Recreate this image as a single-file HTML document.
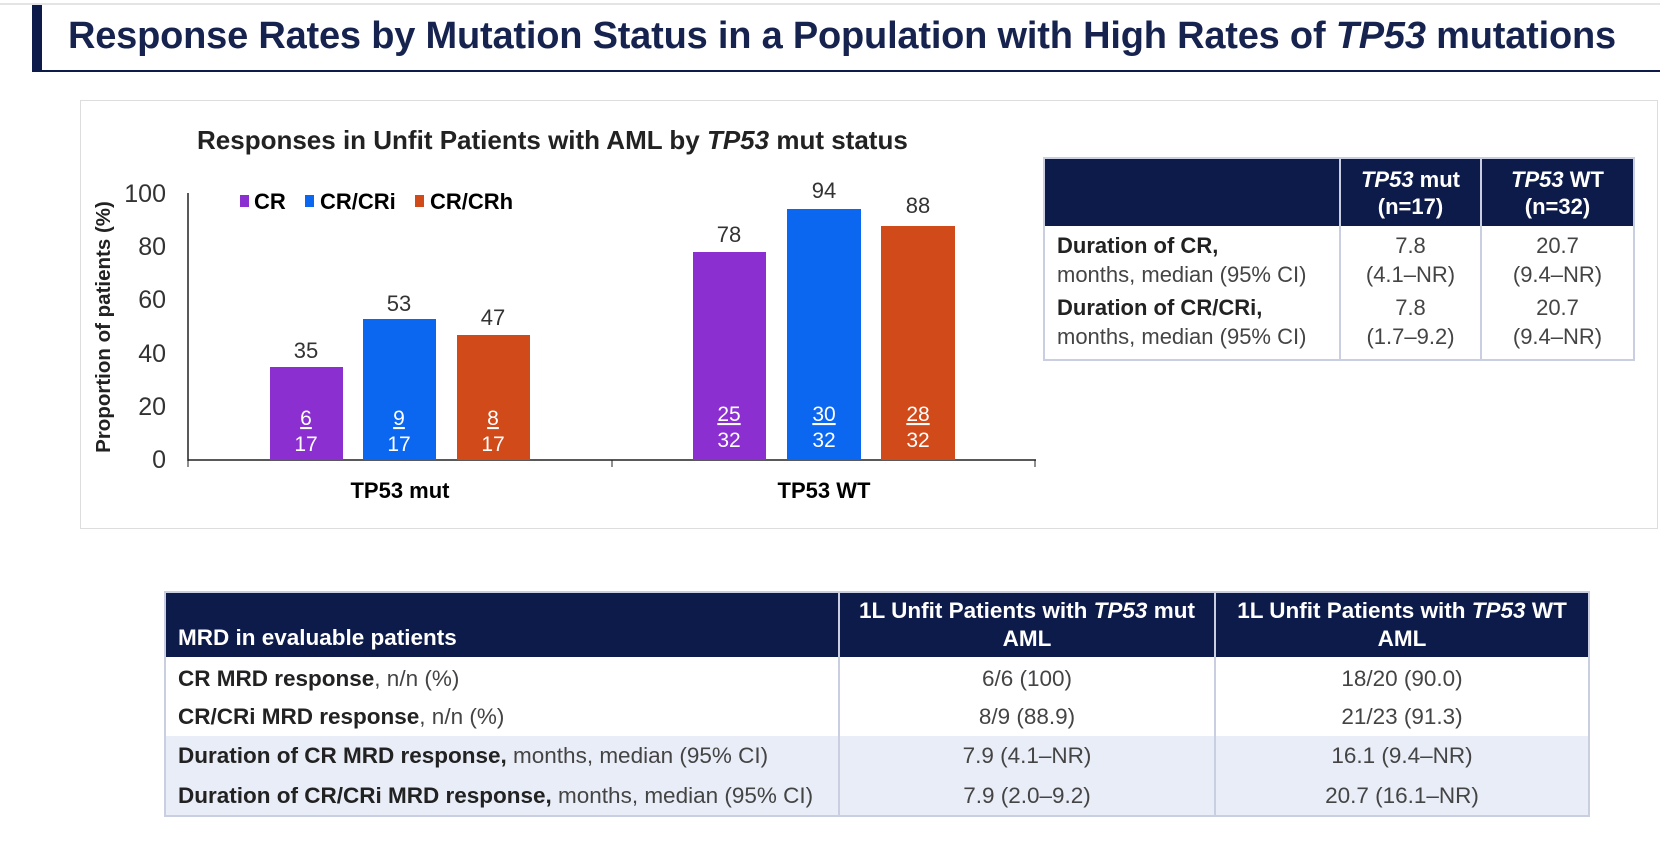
<!DOCTYPE html>
<html><head><meta charset="utf-8"><style>
body{margin:0;width:1660px;height:858px;background:#fff;position:relative;overflow:hidden;font-family:"Liberation Sans",sans-serif;color:#222}
.a{position:absolute}
table{border-collapse:collapse;position:absolute}
td,th{padding:0;white-space:nowrap}
</style></head><body>
<div class="a" style="left:0;top:3px;width:1660px;height:2px;background:#e4e4e4"></div>
<div class="a" style="left:32px;top:5px;width:10px;height:67px;background:#0d1b4a"></div>
<div class="a" style="left:42px;top:70px;width:1618px;height:2px;background:#0d1b4a"></div>
<div class="a" style="left:68px;top:15px;font-size:38px;font-weight:bold;color:#17234f;white-space:nowrap;letter-spacing:-0.2px">Response Rates by Mutation Status in a Population with High Rates of <i>TP53</i> mutations</div>

<div class="a" style="left:80px;top:100px;width:1576px;height:427px;border:1px solid #ddd"></div>
<div class="a" style="left:197px;top:125px;font-size:26px;font-weight:bold;white-space:nowrap">Responses in Unfit Patients with AML by <i>TP53</i> mut status</div>

<svg class="a" style="left:0;top:0" width="1660" height="858" font-family="Liberation Sans, sans-serif">
<line x1="188" y1="193" x2="188" y2="461" stroke="#222" stroke-width="1.5"/>
<line x1="188" y1="460" x2="1036" y2="460" stroke="#222" stroke-width="1.5"/>
<line x1="612" y1="460" x2="612" y2="467" stroke="#222"/>
<line x1="1035" y1="460" x2="1035" y2="467" stroke="#222"/>
<line x1="188" y1="460" x2="188" y2="467" stroke="#222"/>
<g font-size="25" fill="#333" text-anchor="end">
<text x="166" y="202">100</text><text x="166" y="255">80</text><text x="166" y="308">60</text><text x="166" y="362">40</text><text x="166" y="415">20</text><text x="166" y="468">0</text>
</g>
<text transform="translate(110,327) rotate(-90)" font-size="20.5" font-weight="bold" text-anchor="middle" fill="#222">Proportion of patients (%)</text>
<rect x="240" y="195" width="9" height="12" fill="#8b2fd0"/><text x="254" y="209" font-size="22" font-weight="bold">CR</text>
<rect x="305" y="195" width="9" height="12" fill="#0b66f0"/><text x="320" y="209" font-size="22" font-weight="bold">CR/CRi</text>
<rect x="415" y="195" width="9" height="12" fill="#d04a1a"/><text x="430" y="209" font-size="22" font-weight="bold">CR/CRh</text>
<g>
<rect x="270" y="367" width="73" height="93" fill="#8b2fd0"/>
<rect x="363" y="319" width="73" height="141" fill="#0b66f0"/>
<rect x="457" y="335" width="73" height="125" fill="#d04a1a"/>
<rect x="693" y="252" width="73" height="208" fill="#8b2fd0"/>
<rect x="787" y="209" width="74" height="251" fill="#0b66f0"/>
<rect x="881" y="226" width="74" height="234" fill="#d04a1a"/>
</g>
<g font-size="22" fill="#333" text-anchor="middle">
<text x="306" y="358">35</text><text x="399" y="311">53</text><text x="493" y="325">47</text>
<text x="729" y="242">78</text><text x="824" y="198">94</text><text x="918" y="213">88</text>
</g>
<g font-size="21" fill="#fff" text-anchor="middle" text-decoration="underline">
<text x="306" y="425">6</text><text x="399" y="425">9</text><text x="493" y="425">8</text>
<text x="729" y="421">25</text><text x="824" y="421">30</text><text x="918" y="421">28</text>
</g>
<g font-size="21" fill="#fff" text-anchor="middle">
<text x="306" y="451">17</text><text x="399" y="451">17</text><text x="493" y="451">17</text>
<text x="729" y="447">32</text><text x="824" y="447">32</text><text x="918" y="447">32</text>
</g>
<text x="400" y="498" font-size="22" font-weight="bold" text-anchor="middle">TP53 mut</text>
<text x="824" y="498" font-size="22" font-weight="bold" text-anchor="middle">TP53 WT</text>
</svg>

<table style="left:1043px;top:157px;width:592px;border:2px solid #c9cfe0;font-size:22px">
<tr style="background:#0d1b4a;color:#fff;height:68px;font-weight:bold;text-align:center;line-height:27px">
<td style="width:294px"></td><td style="width:139px;border-left:2px solid #c9cfe0"><i>TP53</i> mut<br>(n=17)</td><td style="border-left:2px solid #c9cfe0"><i>TP53</i> WT<br>(n=32)</td></tr>
<tr style="height:67px;color:#444"><td style="padding-left:12px;line-height:29px"><b style="color:#222">Duration of CR,</b><br>months, median (95% CI)</td><td style="text-align:center;border-left:2px solid #c9cfe0;line-height:29px">7.8<br>(4.1–NR)</td><td style="text-align:center;border-left:2px solid #c9cfe0;line-height:29px">20.7<br>(9.4–NR)</td></tr>
<tr style="height:67px;color:#444"><td style="padding-left:12px;line-height:29px;vertical-align:top"><b style="color:#222">Duration of CR/CRi,</b><br>months, median (95% CI)</td><td style="text-align:center;border-left:2px solid #c9cfe0;line-height:29px;vertical-align:top">7.8<br>(1.7–9.2)</td><td style="text-align:center;border-left:2px solid #c9cfe0;line-height:29px;vertical-align:top">20.7<br>(9.4–NR)</td></tr>
</table>

<table style="left:164px;top:591px;width:1426px;border:2px solid #c9cfe0;font-size:22.5px;color:#444">
<tr style="background:#0d1b4a;color:#fff;height:65px;font-weight:bold">
<td style="width:660px;padding-left:12px;vertical-align:bottom;padding-bottom:6px">MRD in evaluable patients</td>
<td style="width:374px;text-align:center;border-left:2px solid #c9cfe0;line-height:28px">1L Unfit Patients with <i>TP53</i> mut<br>AML</td>
<td style="text-align:center;border-left:2px solid #c9cfe0;line-height:28px">1L Unfit Patients with <i>TP53</i> WT<br>AML</td></tr>
<tr style="height:40px"><td style="padding-left:12px;padding-top:4px"><b style="color:#222">CR MRD response</b>, n/n (%)</td><td style="text-align:center;border-left:2px solid #c9cfe0;padding-top:4px">6/6 (100)</td><td style="text-align:center;border-left:2px solid #c9cfe0;padding-top:4px">18/20 (90.0)</td></tr>
<tr style="height:39px"><td style="padding-left:12px"><b style="color:#222">CR/CRi MRD response</b>, n/n (%)</td><td style="text-align:center;border-left:2px solid #c9cfe0">8/9 (88.9)</td><td style="text-align:center;border-left:2px solid #c9cfe0">21/23 (91.3)</td></tr>
<tr style="height:40px;background:#e9edf7"><td style="padding-left:12px"><b style="color:#222">Duration of CR MRD response,</b> months, median (95% CI)</td><td style="text-align:center;border-left:2px solid #c9cfe0">7.9 (4.1–NR)</td><td style="text-align:center;border-left:2px solid #c9cfe0">16.1 (9.4–NR)</td></tr>
<tr style="height:40px;background:#e9edf7"><td style="padding-left:12px"><b style="color:#222">Duration of CR/CRi MRD response,</b> months, median (95% CI)</td><td style="text-align:center;border-left:2px solid #c9cfe0">7.9 (2.0–9.2)</td><td style="text-align:center;border-left:2px solid #c9cfe0">20.7 (16.1–NR)</td></tr>
</table>
</body></html>
